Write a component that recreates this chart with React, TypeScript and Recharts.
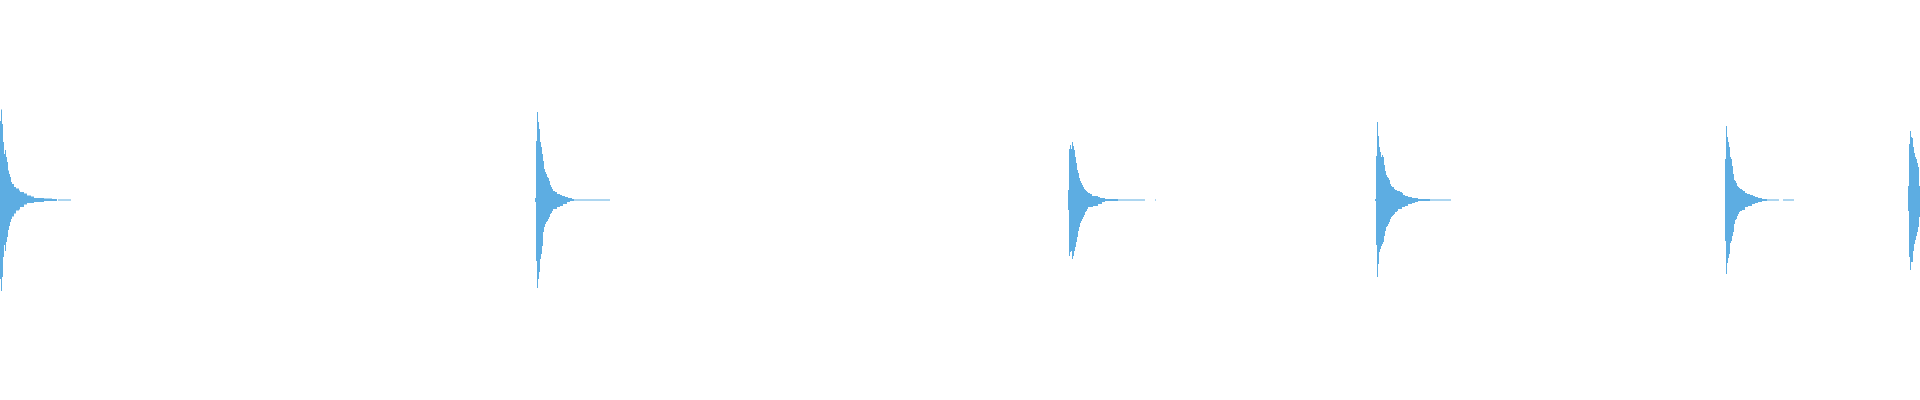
import { Area, AreaChart, XAxis, YAxis } from 'recharts';

// step points: [time, upper, lower] — each value holds until the next point
const burst1 = [
    [0, 79, -79], [1, 90.5, -91], [2, 76, -77], [3, 58, -57], [4, 46, -45], [5, 50, -51],
    [6, 43, -42], [7, 38, -37], [8, 29.5, -30], [9, 26, -26], [10, 23, -22], [11, 18, -19],
    [12, 16, -16.5], [14, 13, -13.5], [16, 11.5, -10.5], [19, 9.5, -9.5], [20, 8, -7],
    [24, 6.5, -4.5], [27, 4.5, -3], [31, 3.5, -3], [34, 2, -2], [44, 1.5, -1], [52, 1, -1],
    [57, 0, 0], [58, 0.5, -0.5], [71, 0, 0],
];

const burst2 = [
    [535, 2, -2], [536, 59, -61], [537, 88, -88], [538, 78, -79], [539, 71, -72], [540, 58, -59],
    [541, 53, -54], [542, 46, -46], [543, 39, -32], [544, 31, -27], [545, 28, -24], [546, 26, -22],
    [547, 23, -21], [548, 22, -19], [549, 19, -17], [550, 15, -14], [551, 13, -13], [552, 11, -11],
    [553, 9, -9], [555, 8, -9], [557, 6, -7], [560, 5, -6], [562, 4, -6], [563, 4, -4],
    [565, 3, -4], [567, 3, -2], [568, 2, -2], [570, 2, -1], [572, 1, -1], [574, 0.5, -0.5],
    [610, 0, 0],
];

const burst3 = [
    [1068, 10, -10], [1069, 51, -56], [1070, 55, -52], [1071, 51, -51], [1072, 58, -59],
    [1073, 54, -56], [1074, 50, -51], [1075, 43, -47], [1076, 37, -42], [1077, 30, -37],
    [1078, 27, -31], [1079, 22, -27], [1080, 19, -23], [1081, 17, -21], [1082, 15, -19],
    [1083, 13, -17], [1084, 11, -15], [1085, 10, -12], [1086, 9, -11], [1087, 8, -9],
    [1088, 7, -7], [1090, 6, -7], [1092, 4, -7], [1093, 4, -6], [1098, 3, -4], [1100, 2, -4],
    [1102, 2, -2], [1105, 1, -1], [1118, 0.5, -0.5], [1145, 0, 0], [1155, 0.5, -0.5], [1156, 0, 0],
];

const burst4 = [
    [1375, 1, -1], [1376, 44, -45], [1377, 78, -77], [1378, 64, -64], [1379, 53, -52],
    [1380, 48, -49], [1381, 43, -46], [1382, 45, -44], [1383, 43, -42], [1384, 35, -36],
    [1385, 29, -31], [1386, 25, -27], [1387, 23, -26], [1388, 22, -24], [1389, 20, -22],
    [1390, 16, -19], [1391, 14, -17], [1392, 13, -16], [1393, 13, -15], [1394, 11, -14],
    [1395, 10, -12], [1397, 9, -11], [1398, 9, -9], [1400, 8, -9], [1402, 7, -7], [1403, 5, -7],
    [1405, 4, -6], [1408, 3, -4], [1412, 2, -3], [1415, 2, -2], [1418, 1, -1], [1430, 0.5, -0.5],
    [1451, 0, 0],
];

const burst5 = [
    [1725, 41, -41], [1726, 74, -74], [1727, 63, -63], [1728, 58, -58], [1729, 53, -54],
    [1730, 43, -43], [1731, 41, -41], [1732, 34, -36], [1733, 26, -32], [1734, 20, -24],
    [1735, 19, -20], [1736, 17, -19], [1737, 14, -16], [1738, 13, -14], [1739, 12, -12],
    [1740, 11, -11], [1742, 10, -10], [1743, 9, -10], [1745, 7, -7], [1747, 6, -7], [1748, 6, -6],
    [1750, 5, -6], [1752, 5, -4], [1753, 4, -4], [1755, 3, -3], [1758, 2, -2], [1762, 1, -1],
    [1767, 0.5, -0.5], [1779, 0, 0], [1783, 0.5, -0.5], [1794, 0, 0],
];

const burst6 = [
    [1908, 14, -11], [1909, 56, -57], [1910, 69, -70], [1911, 63, -62], [1912, 62, -62],
    [1913, 53, -51], [1914, 47, -44], [1915, 43, -40], [1916, 41, -36], [1917, 37, -32],
    [1918, 33, -27], [1919, 14, -17], [1920, 14, -17],
];

const bursts = [burst1, burst2, burst3, burst4, burst5, burst6];

const data = bursts.flat().map(([t, hi, lo]) => ({ t, range: [lo, hi] }));

export default function App() {
    return (
        <div style={{ width: 1920, height: 400 }}>
            <style>{'body{margin:0}'}</style>
            <AreaChart width={1920} height={400} data={data} margin={{ top: 0, right: 0, bottom: 0, left: 0 }}>
                <XAxis dataKey="t" type="number" domain={[0, 1920]} hide />
                <YAxis type="number" domain={[-200, 200]} hide />
                <Area
                    type="stepAfter"
                    dataKey="range"
                    stroke="none"
                    fill="#5dade2"
                    fillOpacity={1}
                    dot={false}
                    activeDot={false}
                    isAnimationActive={false}
                />
            </AreaChart>
        </div>
    );
}
